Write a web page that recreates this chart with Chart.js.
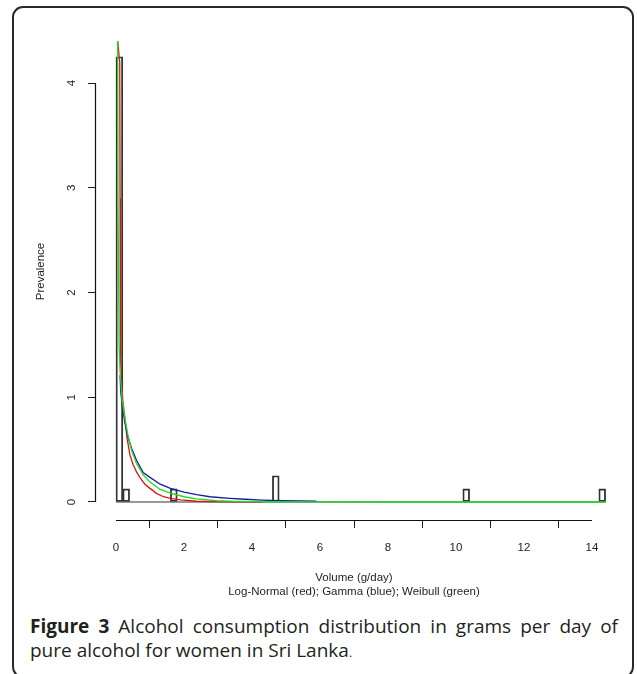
<!DOCTYPE html>
<html><head><meta charset="utf-8">
<script src="https://cdn.jsdelivr.net/npm/chart.js@4.4.1/dist/chart.umd.min.js"></script>
<style>
html,body{margin:0;padding:0;background:#fff;}
#wrap{position:relative;width:637px;height:674px;overflow:hidden;background:#fff;}
#frame{position:absolute;left:12px;top:6px;width:622px;height:672px;border:2px solid #2a2a2a;border-radius:11px;box-sizing:border-box;}
#chartBox{position:absolute;left:0;top:0;width:637px;height:610px;}
#cap{position:absolute;left:30px;top:614px;width:588px;font-family:"Open Sans",sans-serif;font-size:19px;line-height:24px;color:#231f20;}
#cap .l1{text-align:justify;text-align-last:justify;}
#cap b{font-weight:700;}
</style>
</head><body>
<div id="wrap">
  <div id="frame"></div>
  <div id="chartBox"><canvas id="c" width="637" height="610"></canvas></div>
  <div id="cap"><div class="l1"><b>Figure 3</b> Alcohol consumption distribution in grams per day of</div><div>pure alcohol for women in Sri Lanka<span style="font-family:'Liberation Sans';font-size:13px">.</span></div></div>
</div>
<script>
// ---- data ----
const binWidth = 0.2;
const binStarts = [0, 0.2, 1.6, 4.6, 10.2, 14.2];
const binDensity = [4.25, 0.125, 0.125, 0.25, 0.125, 0.125];
const histRange = [0, 14.4];

const lognormX = [0.05, 0.11, 0.12, 0.13, 0.2, 0.26, 0.33, 0.41, 0.5, 0.6, 0.7, 0.85, 1.0, 1.2, 1.4, 1.6, 1.9, 2.37, 2.85, 3.5, 4.3];
const lognormY = [4.4, 4.2, 2.9, 1.36, 0.97, 0.8, 0.6, 0.45, 0.36, 0.29, 0.235, 0.17, 0.13, 0.08, 0.05, 0.035, 0.02, 0.007, 0.003, 0.001, 0.0];

const gammaX = [0.12, 0.14, 0.2, 0.26, 0.35, 0.46, 0.6, 0.8, 1.0, 1.3, 1.6, 2.0, 2.37, 2.76, 3.35, 3.8, 4.3, 4.9, 5.9];
const gammaY = [1.21, 1.05, 0.88, 0.76, 0.62, 0.51, 0.4, 0.28, 0.235, 0.17, 0.13, 0.095, 0.07, 0.05, 0.035, 0.026, 0.018, 0.012, 0.009];

const weibullX = [0.05, 0.06, 0.09, 0.12, 0.18, 0.26, 0.35, 0.46, 0.6, 0.8, 1.0, 1.3, 1.6, 2.0, 2.37, 2.96, 3.5, 4.5, 6.0, 8.0, 14.4];
const weibullY = [4.4, 2.9, 1.5, 1.25, 0.98, 0.8, 0.64, 0.49, 0.37, 0.26, 0.19, 0.12, 0.085, 0.05, 0.03, 0.012, 0.006, 0.002, 0.0005, 0.0, 0.0];

const xTicks = [0, 2, 4, 6, 8, 10, 12, 14];
const yTicks = [0, 1, 2, 3, 4];
const xTitle = ['Volume (g/day)', 'Log-Normal (red); Gamma (blue); Weibull (green)'];
const yTitle = 'Prevalence';

// ---- build ----
const pts = (xs, ys) => xs.map((x, i) => ({x: x, y: ys[i]}));
const histPts = binStarts.map((s, i) => ({x: s + binWidth / 2, y: binDensity[i]}));
const basePts = [{x: histRange[0], y: 0}, {x: histRange[1], y: 0}];

const FONT = {family: 'Liberation Sans', size: 11.5};
const INK = '#1e1e1e';

const axisLines = {
  id: 'axisLines',
  afterDraw(chart) {
    const ctx = chart.ctx;
    const xs = chart.scales.x, ys = chart.scales.y, area = chart.chartArea;
    ctx.save();
    ctx.setLineDash([]);
    ctx.strokeStyle = '#111';
    ctx.lineWidth = 1.2;
    const yb = Math.round(area.bottom) + 0.5;
    ctx.beginPath();
    ctx.moveTo(xs.getPixelForValue(xTicks[0]), yb);
    ctx.lineTo(xs.getPixelForValue(xTicks[xTicks.length - 1]), yb);
    ctx.stroke();
    const xl = Math.round(area.left) - 0.5;
    ctx.beginPath();
    ctx.moveTo(xl, ys.getPixelForValue(yTicks[0]));
    ctx.lineTo(xl, ys.getPixelForValue(yTicks[yTicks.length - 1]));
    ctx.stroke();
    ctx.restore();
  }
};

new Chart(document.getElementById('c'), {
  type: 'bar',
  data: {
    datasets: [
      {type: 'line', label: 'Weibull', data: pts(weibullX, weibullY), borderColor: '#1fdc1f', borderWidth: 1.3, pointRadius: 0, tension: 0, order: 0},
      {type: 'line', label: 'Gamma', data: pts(gammaX, gammaY), borderColor: '#1a1aa6', borderWidth: 1.3, pointRadius: 0, tension: 0, order: 1},
      {type: 'line', label: 'Log-Normal', data: pts(lognormX, lognormY), borderColor: '#dd1515', borderWidth: 1.3, pointRadius: 0, tension: 0, order: 2},
      {type: 'line', label: 'base', data: basePts, borderColor: '#333', borderWidth: 1, pointRadius: 0, order: 3},
      {type: 'bar', label: 'hist', data: histPts, borderColor: '#333', borderWidth: 1.2, backgroundColor: 'rgba(0,0,0,0)', borderSkipped: false, barPercentage: 1, categoryPercentage: 1, grouped: false, order: 4}
    ]
  },
  options: {
    responsive: false,
    animation: false,
    events: [],
    layout: {padding: {left: 0, top: 23, right: 25, bottom: 0}},
    plugins: {legend: {display: false}, tooltip: {enabled: false}},
    scales: {
      x: {
        type: 'linear', position: 'bottom', offset: false,
        min: -0.588, max: 14.588,
        afterBuildTicks: s => { s.ticks = xTicks.map(v => ({value: v})); },
        afterFit: s => { s.height = 90; },
        grid: {display: true, drawOnChartArea: false, drawTicks: true, tickLength: 8, color: INK, lineWidth: 1},
        border: {display: false},
        ticks: {color: INK, font: FONT, padding: 13, maxRotation: 0, autoSkip: false},
        title: {display: true, text: xTitle, color: INK, font: FONT, padding: {top: 0, bottom: 11}}
      },
      y: {
        type: 'linear', position: 'left',
        min: -0.172, max: 4.573,
        afterBuildTicks: s => { s.ticks = yTicks.map(v => ({value: v})); },
        afterFit: s => { s.width = 96; },
        grid: {display: true, drawOnChartArea: false, drawTicks: true, tickLength: 8, color: INK, lineWidth: 1},
        border: {display: false},
        ticks: {color: INK, font: FONT, padding: 13, minRotation: 90, maxRotation: 90, crossAlign: 'center', autoSkip: false},
        title: {display: true, text: yTitle, color: INK, font: FONT, padding: {top: 34, bottom: 0}}
      }
    }
  },
  plugins: [axisLines]
});
</script>
</body></html>
